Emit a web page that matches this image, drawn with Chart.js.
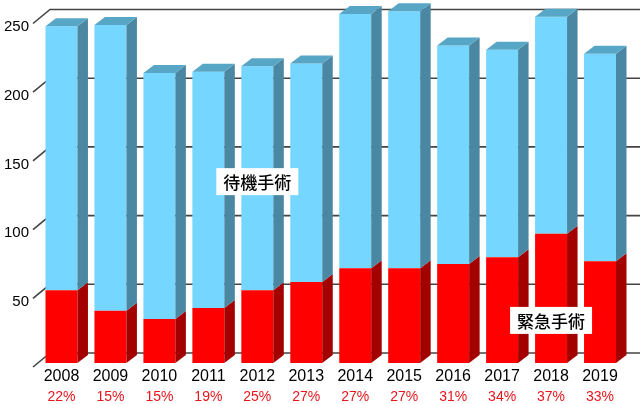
<!DOCTYPE html>
<html>
<head>
<meta charset="utf-8">
<script src="https://cdn.jsdelivr.net/npm/chart.js@4/dist/chart.umd.min.js"></script>
<style>
  body { margin: 0; background: #fff; }
</style>
</head>
<body>
<canvas id="chart" width="640" height="404"></canvas>
<script>
const years = ["2008", "2009", "2010", "2011", "2012", "2013", "2014", "2015", "2016", "2017", "2018", "2019"];
const emergency = [53, 38, 32, 40, 53, 59, 69, 69, 72, 77, 94, 74];
const elective = [192, 208, 179, 172, 163, 159, 185, 187, 159, 151, 158, 151];
const percents = ["22%", "15%", "15%", "19%", "25%", "27%", "27%", "27%", "31%", "34%", "37%", "33%"];
const yMax = 250;
const yStep = 50;

// where the two series names sit (category index, value)
const electiveLabel = { text: "待機手術", index: 4, value: 132 };
const emergencyLabel = { text: "緊急手術", index: 10, value: 31 };

const latin = "'Liberation Sans', Arial, sans-serif";
const cjk = "'Noto Sans CJK JP', sans-serif";

// depth of the fake 3d
const dx = 10.5;
const dy = -8;
const wallDy = -10;

const faces = [
    { side: "#a30000", top: "#c80000" },
    { side: "#4a87a2", top: "#58a6c6" }
];

const bars3d = {
    id: "bars3d",
    beforeDatasetsDraw(chart) {
        const ctx = chart.ctx;
        const y = chart.scales.y;
        const area = chart.chartArea;
        const x0 = area.left - 4;
        const x1 = x0 + 17;
        ctx.save();
        ctx.strokeStyle = "#444";
        ctx.lineWidth = 1.6;
        for (let v = 0; v <= yMax; v += yStep) {
            const back = y.getPixelForValue(v) + wallDy;
            ctx.beginPath();
            ctx.moveTo(x0, back + 14);
            ctx.lineTo(x1, back);
            ctx.lineTo(chart.width, back);
            ctx.stroke();
        }
        ctx.restore();
    },
    afterDatasetsDraw(chart) {
        const ctx = chart.ctx;
        ctx.save();
        chart.data.datasets.forEach((ds, di) => {
            const meta = chart.getDatasetMeta(di);
            meta.data.forEach(bar => {
                const left = bar.x - bar.width / 2;
                const right = bar.x + bar.width / 2;
                const top = Math.min(bar.y, bar.base);
                const bottom = Math.max(bar.y, bar.base);
                ctx.fillStyle = faces[di].side;
                ctx.beginPath();
                ctx.moveTo(right, top);
                ctx.lineTo(right + dx, top + dy);
                ctx.lineTo(right + dx, bottom + dy);
                ctx.lineTo(right, bottom);
                ctx.closePath();
                ctx.fill();
                if (di === chart.data.datasets.length - 1) {
                    ctx.fillStyle = faces[di].top;
                    ctx.beginPath();
                    ctx.moveTo(left, top);
                    ctx.lineTo(left + dx, top + dy);
                    ctx.lineTo(right + dx, top + dy);
                    ctx.lineTo(right, top);
                    ctx.closePath();
                    ctx.fill();
                }
            });
        });

        [electiveLabel, emergencyLabel].forEach(lab => {
            const cx = chart.scales.x.getPixelForValue(lab.index);
            const cy = chart.scales.y.getPixelForValue(lab.value);
            ctx.font = "500 17px " + cjk;
            const w = ctx.measureText(lab.text).width + 14;
            const h = 27;
            ctx.fillStyle = "#fff";
            ctx.fillRect(cx - w / 2, cy - h / 2, w, h);
            ctx.fillStyle = "#000";
            ctx.textAlign = "center";
            ctx.textBaseline = "middle";
            ctx.fillText(lab.text, cx, cy + 1);
        });
        ctx.restore();
    }
};

new Chart(document.getElementById("chart"), {
    type: "bar",
    data: {
        labels: years,
        datasets: [
            {
                label: "緊急手術",
                data: emergency,
                backgroundColor: "#ff0000",
                barPercentage: 0.653,
                categoryPercentage: 1,
                clip: false
            },
            {
                label: "待機手術",
                data: elective,
                backgroundColor: "#75d6ff",
                barPercentage: 0.653,
                categoryPercentage: 1,
                clip: false
            }
        ]
    },
    options: {
        responsive: false,
        animation: false,
        layout: { padding: { top: 19.5, right: 15.5, left: 0, bottom: 0 } },
        plugins: {
            legend: { display: false },
            tooltip: { enabled: false }
        },
        scales: {
            x: {
                stacked: true,
                grid: { display: false, drawTicks: false },
                border: { display: false },
                ticks: { color: "#000", font: { family: latin, size: 16 }, padding: 4 },
                afterFit: s => { s.height = 22; }
            },
            x2: {
                type: "category",
                labels: percents,
                position: "bottom",
                grid: { display: false, drawTicks: false },
                border: { display: false },
                ticks: { color: "#e8151b", font: { family: latin, size: 14 }, padding: 4 },
                afterFit: s => { s.height = 19; }
            },
            y: {
                stacked: true,
                min: 0,
                max: yMax,
                grid: { display: false, drawTicks: false },
                border: { display: false },
                ticks: {
                    stepSize: yStep,
                    color: "#000",
                    font: { family: latin, size: 15 },
                    padding: 8,
                    labelOffset: 7.5,
                    callback: v => (v === 0 ? "" : v)
                },
                afterFit: s => { s.width = 37; }
            }
        }
    },
    plugins: [bars3d]
});
</script>
</body>
</html>
